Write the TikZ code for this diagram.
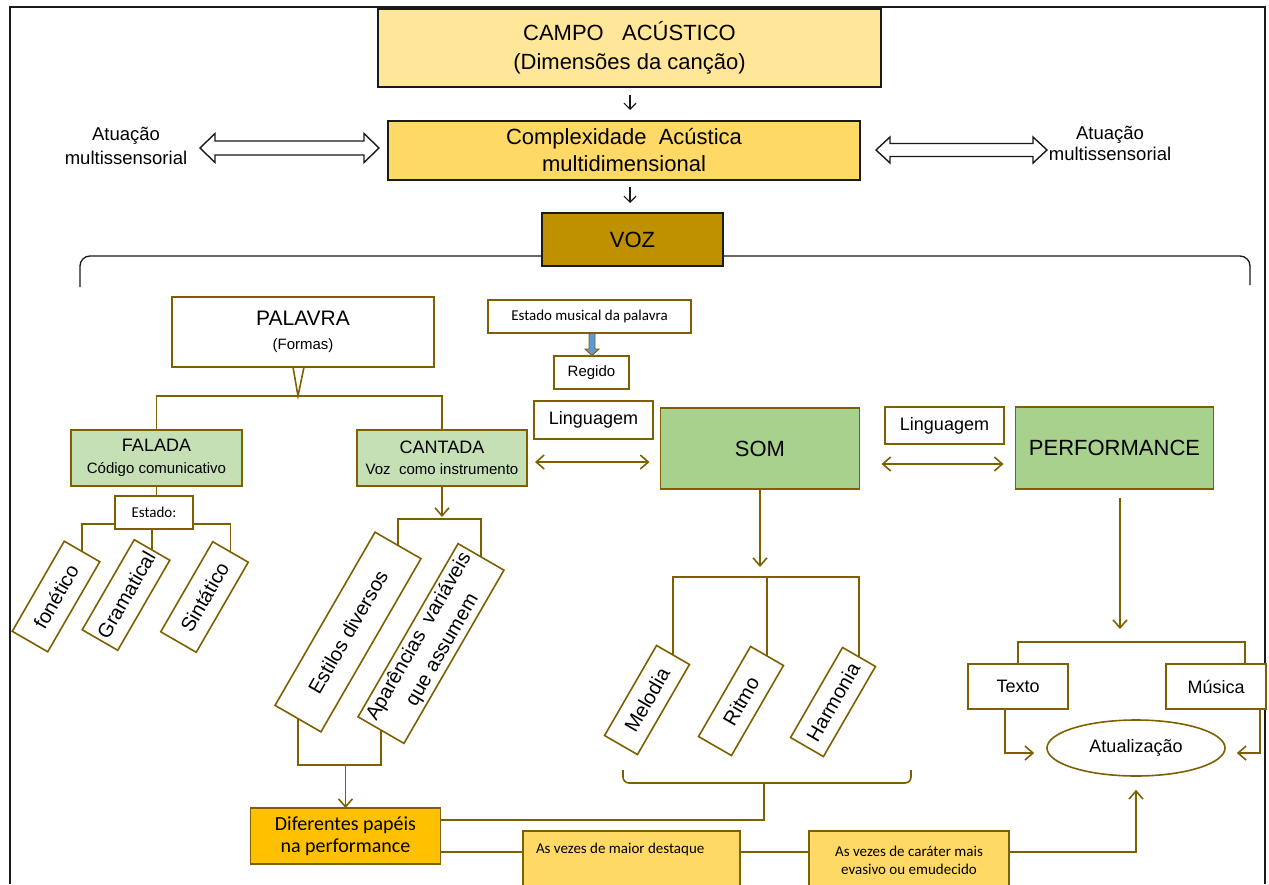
\documentclass[tikz,border=0pt]{standalone}
\usepackage{fontspec}
\setmainfont{Liberation Sans}
\newfontfamily\calib{Carlito}
\usetikzlibrary{arrows.meta,shapes.arrows,shapes.geometric}
\definecolor{gld}{HTML}{7F6000}
\definecolor{campoC}{HTML}{FFE699}
\definecolor{cplxC}{HTML}{FFD966}
\definecolor{vozC}{HTML}{BF9000}
\definecolor{lgrn}{HTML}{C5E0B4}
\definecolor{mgrn}{HTML}{A9D18E}
\definecolor{orgC}{HTML}{FFC000}
\definecolor{bluC}{HTML}{5B9BD5}
\definecolor{frameC}{HTML}{1A1A1A}
\newcommand\fsz[2]{\fontsize{#1}{#2}\selectfont}
\tikzset{
 topbox/.style={draw=frameC, line width=1.6pt, inner sep=0pt, outer sep=0pt, align=center},
 gbox/.style={draw=gld, line width=1.6pt, inner sep=0pt, outer sep=0pt, align=center, fill=white},
 rbox/.style={gbox, rotate=60, font=\fsz{20}{24}},
 gl/.style={draw=gld, line width=1.6pt},
 gar/.style={gl, -{Straight Barb[length=8pt,width=14pt]}},
 gdar/.style={gl, {Straight Barb[length=8pt,width=14pt]}-{Straight Barb[length=8pt,width=14pt]}},
 bar/.style={draw=frameC, line width=1.2pt, -{Straight Barb[length=6pt,width=12pt]}},
 darr/.style={draw=frameC, fill=white, line width=1.4pt, line join=miter},
 wh/.style={inner sep=0pt, outer sep=0pt},
}
\begin{document}
\begin{tikzpicture}[x=1pt,y=-1pt]
\useasboundingbox (0,0) rectangle (1269,884);
\fill[white] (0,0) rectangle (1269,884);
% frame
\draw[frameC, line width=2pt] (10,884) -- (10,7) -- (1265,7) -- (1265,884);
% brace under VOZ
\draw[frameC, line width=1.3pt, rounded corners=10pt] (80,287) -- (80,256) -- (1250,256) -- (1250,285);

% top boxes
\node[topbox, fill=campoC, minimum width=503pt, minimum height=78pt, font=\fsz{22}{29}] (campo) at (629.5,48) {CAMPO\ \ \ ACÚSTICO\\(Dimensões da canção)};
\node[topbox, fill=cplxC, minimum width=472pt, minimum height=59pt, font=\fsz{22}{27}] (cplx) at (624,150.5) {Complexidade\ \ Acústica\\multidimensional};
\node[topbox, fill=vozC, minimum width=181pt, minimum height=53pt, font=\fsz{22}{26}] (voz) at (632.5,239.5) {VOZ};
\coordinate (ax) at (630,0);
\draw[bar, shorten <=8pt, shorten >=11pt] (ax |- campo.south) -- (ax |- cplx.north);
\draw[bar, shorten <=7pt, shorten >=10pt] (ax |- cplx.south) -- (ax |- voz.north);

% side double arrows
\draw[darr] (200,148) -- (215,133.5) -- (215,141) -- (364,141) -- (364,133.5) -- (379,148)
  -- (364,162.5) -- (364,155) -- (215,155) -- (215,162.5) -- cycle;
\draw[darr] (876,150) -- (890,137) -- (890,143.5) -- (1033,143.5) -- (1033,137) -- (1047,150)
  -- (1033,163) -- (1033,156.5) -- (890,156.5) -- (890,163) -- cycle;
\node[wh, align=center, font=\fsz{18.5}{24}] (at1) at (126,146) {Atuação\\multissensorial};
\node[wh, align=center, font=\fsz{18.5}{21}] (at2) at (1110,143) {Atuação\\multissensorial};

% PALAVRA
\node[gbox, minimum width=262pt, minimum height=70pt, font=\fsz{21}{24}] (pal) at (303,332) {PALAVRA\\\fsz{15}{17}(Formas)};
\node[gbox, fill=lgrn, minimum width=171pt, minimum height=56pt, font=\fsz{18}{22}] (fal) at (156.5,458) {FALADA\\\fsz{15}{18}Código comunicativo};
\node[gbox, fill=lgrn, minimum width=170pt, minimum height=56pt, font=\fsz{18}{21}] (can) at (442,458) {CANTADA\\\fsz{15}{18}Voz\ \ como instrumento};
\coordinate (y396) at (0,396);
\coordinate (pjx) at ([xshift=-5pt]pal.south);
\coordinate (pj) at (pjx |- y396);
\draw[gl, line join=miter] ([xshift=-10pt]pal.south) -- (pj) -- ([xshift=1pt]pal.south);
\draw[gl] (fal.north) |- (pj) -| (can.north);

% Falada branch
\node[gbox, minimum width=78pt, minimum height=33pt, font=\calib\fsz{15}{18}] (est0) at (154,512.5) {Estado:};
\draw[gl] (fal.south) -- (fal.south |- est0.north);
\node[rbox, minimum width=104pt, minimum height=41pt] (fon) at (56,596.5) {fonético};
\node[rbox, minimum width=104pt, minimum height=41pt] (gram) at (126,595) {Gramatical};
\node[rbox, minimum width=104pt, minimum height=41pt] (sint) at (204.5,597) {Sintático};
\coordinate (eh) at (0,524);
\draw[gl] (fon.east) |- (est0.west |- eh);
\draw[gl] (sint.east) |- (est0.east |- eh);
\draw[gl] (gram.east) -- (gram.east |- est0.south);

% Cantada branch
\draw[gar] (can.south) -- ++(0,31);
\coordinate (ch) at (0,519);
\node[rbox, minimum width=200pt, minimum height=53pt] (esd) at (348,632) {Estilos diversos};
\node[rbox, minimum width=200pt, minimum height=53pt, font=\fsz{20}{27}] (apa) at (431,643.5) {Aparências\ \ variáveis\\que assumem};
\draw[gl] (esd.east) |- (apa.east |- ch) -- (apa.east);
\coordinate (eb) at (0,765);
\draw[gl] (esd.west) -- (esd.west |- eb) -- (apa.west |- eb) -- (apa.west);
\node[gbox, fill=orgC, minimum width=190pt, minimum height=56pt, font=\calib\fsz{20}{22}] (dif) at (345.5,836) {Diferentes papéis\\na performance};
\draw[gar] (dif.north |- eb) -- (dif.north);

% Estado musical / Regido
\node[gbox, minimum width=203pt, minimum height=33pt, font=\calib\fsz{15}{18}] (emp) at (589.5,316.5) {Estado musical da palavra};
\node[gbox, minimum width=75pt, minimum height=33pt, font=\fsz{15}{18}] (reg) at (591.5,372.5) {Regido};
\filldraw[fill=bluC, draw=gld, line width=0.9pt, line join=miter]
  (589,333.5) -- (595,333.5) -- (595,349) -- (599,349) -- (592,355.5) -- (585,349) -- (589,349) -- cycle;

% Linguagem, SOM, PERFORMANCE
\node[gbox, minimum width=119pt, minimum height=38pt, font=\fsz{18}{22}] (lg1) at (593.5,420) {Linguagem};
\node[gbox, fill=mgrn, minimum width=199pt, minimum height=81pt, font=\fsz{22}{26}] (som) at (760,448.5) {SOM};
\coordinate (y462) at (0,462);
\draw[gdar, shorten <=8pt, shorten >=11pt] (can.east |- y462) -- (som.west |- y462);
\node[gbox, minimum width=119pt, minimum height=37pt, font=\fsz{18}{22}] (lg2) at (944.5,425.5) {Linguagem};
\node[gbox, fill=mgrn, minimum width=198pt, minimum height=82pt, font=\fsz{22}{26}] (perf) at (1114.5,448) {PERFORMANCE};
\coordinate (y464) at (0,464);
\draw[gdar, shorten <=22pt, shorten >=12pt] (som.east |- y464) -- (perf.west |- y464);

% SOM branch
\draw[gar] (som.south) -- ++(0,78);
\node[rbox, minimum width=104pt, minimum height=38pt] (mel) at (647,700) {Melodia};
\node[rbox, minimum width=104pt, minimum height=38pt] (rit) at (741,701) {Ritmo};
\node[rbox, minimum width=104pt, minimum height=38pt] (harm) at (833,702) {Harmonia};
\coordinate (sh) at (0,577);
\draw[gl] (mel.east) |- (harm.east |- sh) -- (harm.east);
\draw[gl] (rit.east) -- (rit.east |- sh);
\draw[gl, rounded corners=6pt] (623,770) -- (623,783) -- (911,783) -- (911,770);
\coordinate (bn) at (764,783);
\coordinate (y820) at (0,820);
\draw[gl] (dif.east |- y820) -| (bn);

% bottom boxes
\node[gbox, fill=cplxC, minimum width=217pt, minimum height=58pt] (b1) at (631.5,860) {};
\node[wh, anchor=west, font=\calib\fsz{15}{18}] (b1t) at (536,849) {As vezes de maior destaque};
\node[gbox, fill=cplxC, minimum width=200pt, minimum height=58pt, font=\calib\fsz{15}{18}] (b2) at (909,860) {As vezes de caráter mais\\evasivo ou emudecido};
\coordinate (y852) at (0,852);
\draw[gl] (dif.east |- y852) -- (b1.west |- y852);
\draw[gl] (b1.east |- y852) -- (b2.west |- y852);

% PERFORMANCE branch
\node[ellipse, draw=gld, line width=1.6pt, fill=white, minimum width=178pt, minimum height=56pt, inner sep=0pt, font=\fsz{18}{22}] (atu) at (1136,748) {Atualização};
\draw[gar, shorten >=13pt] (b2.east |- y852) -| (atu.south);
\draw[gar] ([xshift=5.5pt,yshift=-9pt]perf.south) -- ++(0,131);
\node[gbox, minimum width=100pt, minimum height=45pt, font=\fsz{18}{22}] (tx) at (1018,686.5) {Texto};
\node[gbox, minimum width=100pt, minimum height=45pt, font=\fsz{18}{22}] (mu) at (1216,686.5) {Música};
\coordinate (ph) at (0,642);
\coordinate (mutop) at ([xshift=29pt]mu.north);
\draw[gl] (tx.north) |- (mutop |- ph) -- (mutop);
\coordinate (txb) at ([xshift=-13pt]tx.south);
\coordinate (atw) at ([yshift=-5pt]atu.west);
\draw[gar, shorten >=12pt] (txb) |- (atw);
\coordinate (mub) at ([xshift=44pt]mu.south);
\coordinate (ate) at ([yshift=-5pt]atu.east);
\draw[gar, shorten >=11pt] (mub) |- (ate);
\end{tikzpicture}
\end{document}
